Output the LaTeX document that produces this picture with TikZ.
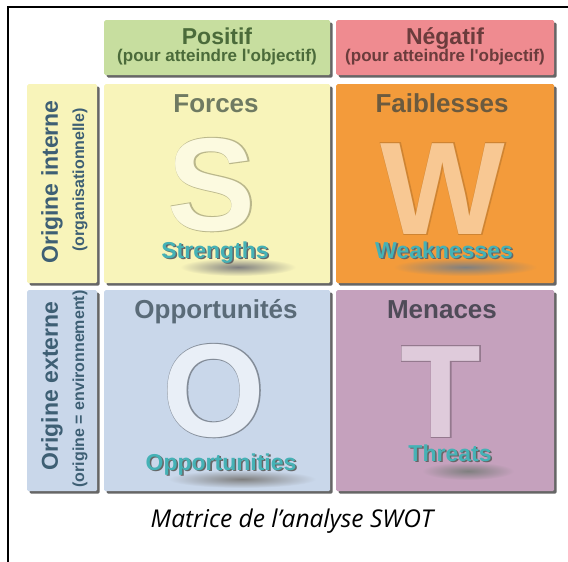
\documentclass[tikz,border=0pt]{standalone}
\usepackage{fontspec}
\setmainfont{Liberation Sans}
\newfontfamily\captionfont{Open Sans}
\newfontfamily\letterfont{Liberation Sans Bold}
\newfontfamily\ringfont{Liberation Sans Bold}[FakeBold=1.5]
\usetikzlibrary{positioning,shadows}

% couleurs des cases
\definecolor{posgreen}{HTML}{C7DE9F}
\definecolor{negred}{HTML}{EF8B90}
\definecolor{forceyellow}{HTML}{F8F4BA}
\definecolor{faiborange}{HTML}{F39B3B}
\definecolor{oppblue}{HTML}{C9D7EA}
\definecolor{menmauve}{HTML}{C5A1BD}
% couleurs des textes
\definecolor{postext}{HTML}{4B6B3A}
\definecolor{negtext}{HTML}{6B3C3C}
\definecolor{forcetext}{HTML}{6F7A62}
\definecolor{faibtext}{HTML}{6B5A3F}
\definecolor{opptext}{HTML}{5A6B78}
\definecolor{mentext}{HTML}{4F4B58}
\definecolor{origtext}{HTML}{3E5F74}
\definecolor{engteal}{HTML}{45B2B6}

% lettre avec contour : #1 contour, #2 remplissage, #3 lettre
\newcommand{\ringletter}[3]{%
  \rlap{\ringfont\textcolor{#1}{#3}}\textcolor{#2}{#3}}
% mot anglais avec ombre portee
\newcommand{\shadowword}[1]{%
  \rlap{\kern1.6pt\raisebox{-1.6pt}{\textcolor{black!60}{#1}}}\textcolor{engteal}{#1}}

\tikzset{
  cell/.style={anchor=north west, inner sep=0pt, rounded corners=1.5pt,
    drop shadow={shadow xshift=2.5pt, shadow yshift=-2.5pt, fill=black!60, opacity=1}},
  headtitle/.style={font=\bfseries\fontsize{23}{25}\selectfont, anchor=base},
  headsub/.style={font=\bfseries\fontsize{17}{19}\selectfont, anchor=base},
  celltitle/.style={font=\bfseries\fontsize{26}{28}\selectfont, anchor=base},
  bigletter/.style={font=\letterfont\fontsize{132}{136}\selectfont, anchor=base, inner sep=0pt},
  engword/.style={font=\bfseries\fontsize{23}{25}\selectfont, anchor=base, inner sep=0pt},
  sidetitle/.style={font=\bfseries\fontsize{23}{25}\selectfont, rotate=90, text=origtext},
  sidesub/.style={font=\bfseries\fontsize{16}{18}\selectfont, rotate=90, text=origtext},
}

\begin{document}
\begin{tikzpicture}[x=1pt, y=-1pt]
\useasboundingbox (0,0) rectangle (568,562);
% cadre
\draw[line width=1.5pt] (8,562) -- (8,7) -- (568,7);

% en-tetes
\node[cell, fill=posgreen, minimum width=226pt, minimum height=55pt] (positif) at (104,20) {};
\node[cell, fill=negred, minimum width=218pt, minimum height=55pt] (negatif) at (336,20) {};
\node[headtitle, text=postext] (positiftxt) at (217,44) {Positif};
\node[headsub, text=postext] (positifsub) at (217,61) {(pour atteindre l\textquotesingle objectif)};
\node[headtitle, text=negtext] (negatiftxt) at (445,44) {Négatif};
\node[headsub, text=negtext] (negatifsub) at (445,61) {(pour atteindre l\textquotesingle objectif)};

% origines
\node[cell, fill=forceyellow, minimum width=70pt, minimum height=199pt] (interne) at (27,84) {};
\node[cell, fill=oppblue, minimum width=70pt, minimum height=201pt] (externe) at (27,290) {};
\node[sidetitle] (internetxt) at (52,182) {Origine interne};
\node[sidesub] (internesub) at (80,180) {(organisationnelle)};
\node[sidetitle] (externetxt) at (52,386) {Origine externe};
\node[sidesub] (externesub) at (80,389) {(origine = environnement)};

% les quatre cases
\node[cell, fill=forceyellow, minimum width=226pt, minimum height=199pt] (forces) at (104,84) {};
\node[cell, fill=faiborange, minimum width=218pt, minimum height=199pt] (faiblesses) at (336,84) {};
\node[cell, fill=oppblue, minimum width=226pt, minimum height=201pt] (opport) at (104,290) {};
\node[cell, fill=menmauve, minimum width=218pt, minimum height=201pt] (menaces) at (336,290) {};

\node[celltitle, text=forcetext] (forcestxt) at (216,112) {Forces};
\node[celltitle, text=faibtext] (faiblessestxt) at (442,112) {Faiblesses};
\node[celltitle, text=opptext] (opporttxt) at (216,318) {Opportunités};
\node[celltitle, text=mentext] (menacestxt) at (442,318) {Menaces};

% grandes lettres
\node[bigletter] (lettreS) at (212,230) {\ringletter{forceyellow!75!black}{forceyellow!45!white}{S}};
\node[bigletter] (lettreW) at (443,234) {\ringletter{faiborange!85!black}{faiborange!55!white}{W}};
\node[bigletter] (lettreO) at (214,436) {\ringletter{oppblue!65!black}{oppblue!40!white}{O}};
\node[bigletter] (lettreT) at (441,437) {\ringletter{menmauve!75!black}{menmauve!55!white}{T}};

% mots anglais
\shade[inner color=black!50, outer color=forceyellow] (238,267) ellipse (58 and 9);
\shade[inner color=black!50, outer color=faiborange] (465,267) ellipse (72 and 9);
\shade[inner color=black!50, outer color=oppblue] (242,479) ellipse (74 and 9);
\shade[inner color=black!50, outer color=menmauve] (468,471) ellipse (46 and 9);
\node[engword] (strengths) at (215,258) {\shadowword{Strengths}};
\node[engword] (weaknesses) at (444,258) {\shadowword{Weaknesses}};
\node[engword] (opportunities) at (221,470) {\shadowword{Opportunities}};
\node[engword] (threats) at (450,461) {\shadowword{Threats}};

% legende
\node[font=\captionfont\itshape\fontsize{24.5}{26}\selectfont, anchor=base] (legende) at (292,527) {Matrice de l’analyse SWOT};
\end{tikzpicture}
\end{document}
